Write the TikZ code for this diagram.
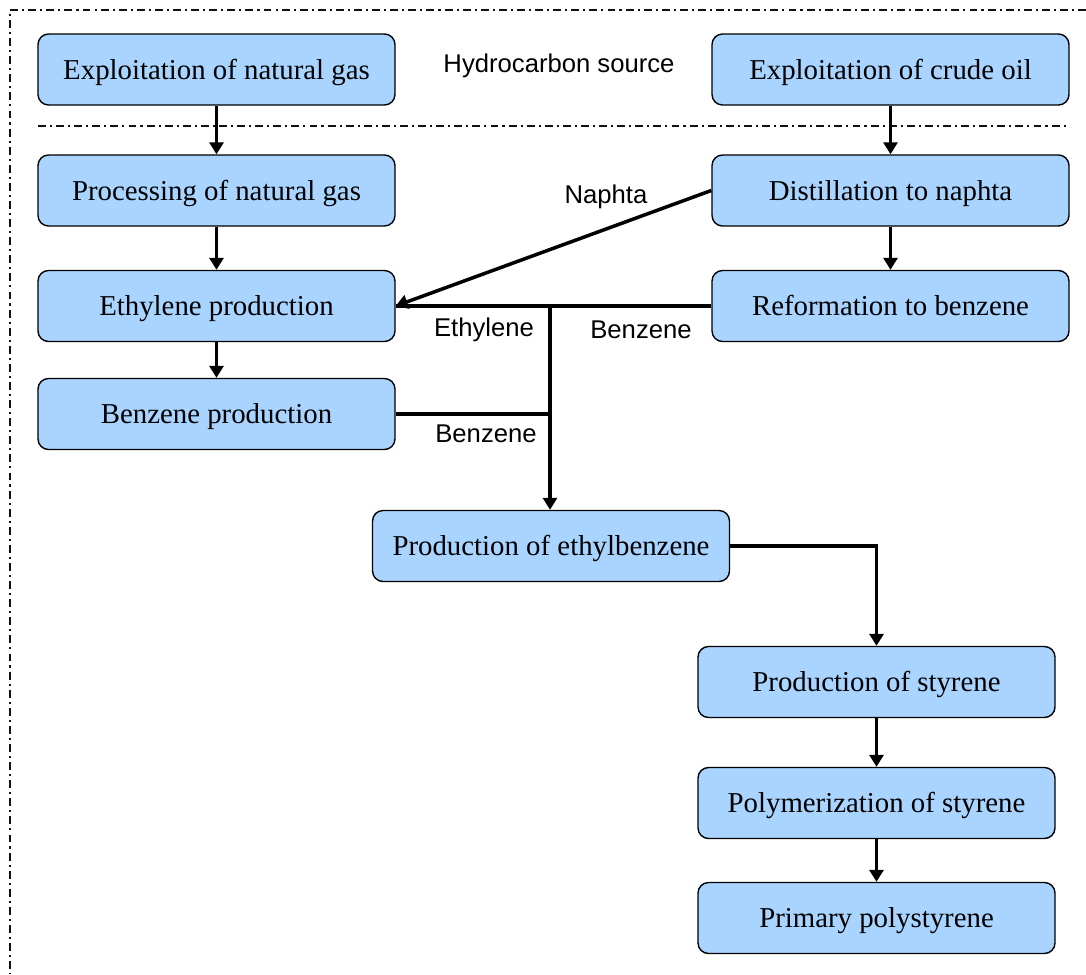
\documentclass[tikz,border=0pt]{standalone}
\usepackage{fontspec}
\setmainfont{Liberation Serif}
\newfontfamily\labelfont{Liberation Sans}
\usetikzlibrary{arrows.meta,positioning,calc}
\definecolor{boxblue}{HTML}{A8D4FF}
\definecolor{framegray}{HTML}{111111}

\begin{document}
\begin{tikzpicture}[>=Triangle,
 proc/.style={rounded corners=6pt,draw,fill=boxblue,line width=0.8pt,minimum width=7.14cm,minimum height=1.42cm,align=center,inner sep=3pt,text height=11.2pt,text depth=0pt,font=\fontsize{16.4}{19}\selectfont},
 lbl/.style={font=\labelfont\fontsize{14.6}{17}\selectfont,inner sep=1pt},
 a/.style={->,line width=2pt,>={Triangle[length=2.4mm,width=2.8mm]}},
 l/.style={line width=2pt},
 dd/.style={line width=1.5pt,framegray,dash pattern=on 4.5pt off 2.3pt on 1.2pt off 2.3pt}]
\useasboundingbox (0,0) rectangle (21.72,-19.48);
% frame and separator
\draw[dd] (21.72,-0.2) -- (0.2,-0.2) -- (0.2,-19.48);
\draw[dd] (0.76,-2.52) -- (21.32,-2.52);

\node[proc] (gas) at (4.33,-1.39) {Exploitation of natural gas};
\node[proc] (oil) at (17.81,-1.39) {Exploitation of crude oil};
\node[lbl] (src) at (11.18,-1.32) {Hydrocarbon source};
\node[proc] (pgas) at (4.33,-3.81) {Processing of natural gas};
\node[proc] (dist) at (17.81,-3.81) {Distillation to naphta};
\node[proc] (eth) at (4.33,-6.12) {Ethylene production};
\node[proc] (ref) at (17.81,-6.12) {Reformation to benzene};
\node[proc] (bz) at (4.33,-8.28) {Benzene production};
\node[proc] (eb) at (11.02,-10.92) {Production of ethylbenzene};
\node[proc] (sty) at (17.53,-13.64) {Production of styrene};
\node[proc] (poly) at (17.53,-16.06) {Polymerization of styrene};
\node[proc] (ps) at (17.53,-18.36) {Primary polystyrene};

\coordinate (jn) at (11.0,-6.12);
\coordinate (jb) at (11.0,-8.28);

\draw[a] (gas) -- (pgas);
\draw[a] (oil) -- (dist);
\draw[a] (pgas) -- (eth);
\draw[a] (dist) -- (ref);
\draw[a] (eth) -- (bz);
\draw[a] (dist.west) -- (eth.east);
\draw[l] (ref.west) -- (eth.east);
\draw[l] (bz.east) -- (jb);
\draw[a] (jn) -- (jn |- eb.north);
\draw[a] (eb.east) -| (sty.north);
\draw[a] (sty) -- (poly);
\draw[a] (poly) -- (ps);

\node[lbl] (nlbl) at (12.12,-3.94) {Naphta};
\node[lbl] (elbl) at (9.68,-6.6) {Ethylene};
\node[lbl] (blbl) at (12.82,-6.6) {Benzene};
\node[lbl] (b2lbl) at (9.72,-8.68) {Benzene};
\end{tikzpicture}
\end{document}
